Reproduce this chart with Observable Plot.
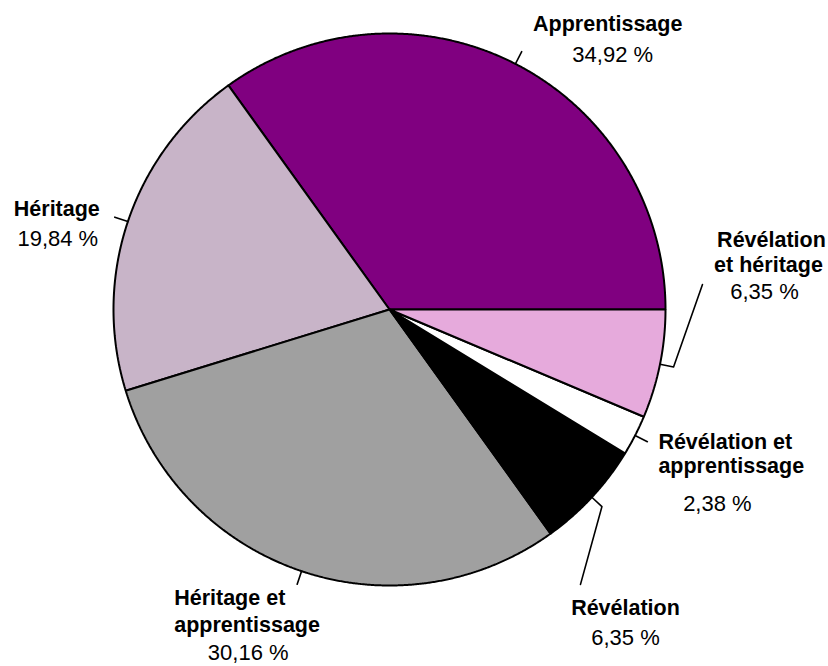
<!DOCTYPE html>
<html><head><meta charset="utf-8">
<script src="https://cdn.jsdelivr.net/npm/d3@7"></script>
<script src="https://cdn.jsdelivr.net/npm/@observablehq/plot@0.6"></script>
<style>html,body{margin:0;padding:0;background:#fff;} #chart svg{display:block;}</style>
</head><body><div id="chart"></div>
<script>
// ---- data ----
const categories = ["Apprentissage", "Héritage", "Héritage et apprentissage", "Révélation", "Révélation et apprentissage", "Révélation et héritage"];
const shares = [34.92, 19.84, 30.16, 6.35, 2.38, 6.35];
const valueLabels = ["34,92 %", "19,84 %", "30,16 %", "6,35 %", "2,38 %", "6,35 %"];
const nameLines = [["Apprentissage"], ["Héritage"], ["Héritage et", "apprentissage"], ["Révélation"], ["Révélation et", "apprentissage"], ["Révélation", "et héritage"]];
const sliceColors = ["#800080", "#C8B4C8", "#A0A0A0", "#000000", "#FFFFFF", "#E6AADC"];

// ---- layout ----
const W = 828, H = 666;
const CX = 389, CY = 309, R_PX = 276;
const leaderRadial = 1.05;
const leaderElbows = [null, null, null, [0.692, -0.996], null, [1.134, 0.0906]];
// per label line: [dx px, baseline dy px, anchor]
const labelOffsets = [
  [[86, -21, "middle"], [91, 10, "middle"]],
  [[-58, -1, "middle"], [-57, 29, "middle"]],
  [[-123, 21, "start"], [-123, 48, "start"], [-49, 76, "middle"]],
  [[45, 31, "middle"], [45, 61, "middle"]],
  [[11, 7, "start"], [11, 31, "start"], [70, 69, "middle"]],
  [[69, -37, "middle"], [66, -12, "middle"], [62, 15, "middle"]]
];

// ---- build ----
const total = d3.sum(shares);
let acc = 0;
const slices = categories.map((cat, i) => {
  const a0 = acc / total * 2 * Math.PI; acc += shares[i];
  const a1 = acc / total * 2 * Math.PI;
  return {cat, i, a0, a1, mid: (a0 + a1) / 2};
});

const wedgePts = slices.flatMap(s => {
  const pts = [{cat: s.cat, x: 0, y: 0}];
  const n = Math.max(2, Math.ceil((s.a1 - s.a0) / (Math.PI / 720)));
  for (let k = 0; k <= n; k++) {
    const a = s.a0 + (s.a1 - s.a0) * k / n;
    pts.push({cat: s.cat, x: Math.cos(a), y: Math.sin(a)});
  }
  return pts;
});

const leaderPts = [];
const labelRows = [];
slices.forEach(s => {
  const p0 = {x: Math.cos(s.mid), y: Math.sin(s.mid)};
  const p1 = {x: leaderRadial * p0.x, y: leaderRadial * p0.y};
  const pts = [p0, p1];
  const e = leaderElbows[s.i];
  if (e) pts.push({x: e[0], y: e[1]});
  pts.forEach(p => leaderPts.push({cat: s.cat, x: p.x, y: p.y}));
  const end = pts[pts.length - 1];
  const lines = nameLines[s.i].map(t => ({text: t, bold: true})).concat([{text: valueLabels[s.i], bold: false}]);
  lines.forEach((l, j) => {
    const [dx, dy, anchor] = labelOffsets[s.i][j];
    labelRows.push({cat: s.cat, text: l.text, bold: l.bold, anchor, x: end.x + dx / R_PX, y: end.y - dy / R_PX});
  });
});

const textMark = (bold, anchor) => Plot.text(labelRows.filter(d => d.bold === bold && d.anchor === anchor), {
  x: "x", y: "y", text: "text", textAnchor: anchor, lineAnchor: "bottom",
  fontWeight: bold ? "bold" : "normal", fontSize: bold ? 21.5 : 22, fill: "black"
});

const chart = Plot.plot({
  width: W, height: H,
  marginLeft: CX - R_PX, marginRight: W - (CX + R_PX),
  marginTop: CY - R_PX, marginBottom: H - (CY + R_PX),
  x: {domain: [-1, 1], axis: null},
  y: {domain: [-1, 1], axis: null},
  color: {domain: categories, range: sliceColors},
  style: {fontFamily: "'Liberation Sans', Arial, sans-serif", background: "white", color: "black"},
  marks: [
    Plot.line(wedgePts, {x: "x", y: "y", z: "cat", fill: "cat", stroke: "black", strokeWidth: 2, curve: "linear-closed", strokeLinejoin: "miter"}),
    Plot.line(leaderPts, {x: "x", y: "y", z: "cat", stroke: "black", strokeWidth: 1.6, curve: "linear"}),
    textMark(true, "middle"), textMark(true, "start"),
    textMark(false, "middle"), textMark(false, "start")
  ]
});
document.getElementById("chart").appendChild(chart);
</script>
</body></html>
